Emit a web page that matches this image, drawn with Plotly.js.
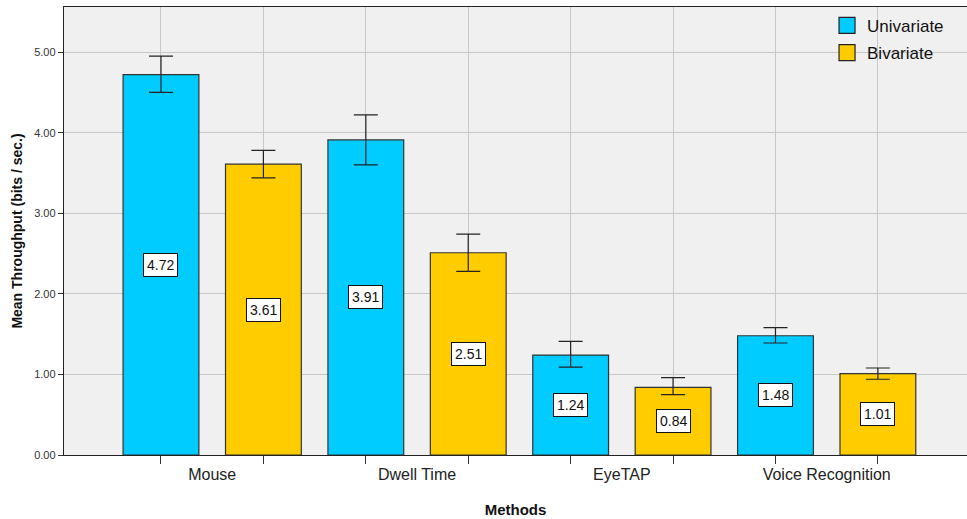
<!DOCTYPE html>
<html><head><meta charset="utf-8">
<script src="https://cdn.plot.ly/plotly-3.0.1.min.js"></script>
<style>body{margin:0;padding:0;background:#fff}#chart{width:967px;height:519px}</style>
</head><body><div id="chart"></div>
<script>
const categories = ["Mouse", "Dwell Time", "EyeTAP", "Voice Recognition"];
const seriesNames = ["Univariate", "Bivariate"];
const univariate = [4.72, 3.91, 1.24, 1.48];
const univariatePlus = [0.23, 0.31, 0.17, 0.10];
const univariateMinus = [0.22, 0.31, 0.15, 0.09];
const bivariate = [3.61, 2.51, 0.84, 1.01];
const bivariatePlus = [0.17, 0.23, 0.12, 0.07];
const bivariateMinus = [0.17, 0.23, 0.09, 0.07];
const yTicks = [0, 1, 2, 3, 4, 5];

const colors = ["#00ccff", "#ffcc00"];
const values = [univariate, bivariate];
const plus = [univariatePlus, bivariatePlus];
const minus = [univariateMinus, bivariateMinus];

const traces = values.map((vals, s) => ({
  type: "bar",
  name: seriesNames[s],
  x: vals.map((v, i) => i * 2 + s),
  y: vals,
  width: 0.74,
  showlegend: false,
  marker: {color: colors[s], line: {color: "#333333", width: 1.2}},
  error_y: {type: "data", symmetric: false, array: plus[s], arrayminus: minus[s],
            color: "#222222", thickness: 1.2, width: 12},
  xaxis: "x", yaxis: "y"
}));
// legend entries with larger square swatches
seriesNames.forEach((n, s) => traces.push({type: "scatter", name: n, x: [null], y: [null], mode: "markers",
  legendgroup: n, marker: {symbol: "square", size: 19, color: colors[s], line: {color: "#222", width: 1.2}},
  xaxis: "x", yaxis: "y"}));
// invisible trace to activate category-label axis
traces.push({type: "scatter", x: categories.map((c, i) => i * 2 + 0.5), y: categories.map(() => 0),
  mode: "markers", marker: {opacity: 0}, showlegend: false, hoverinfo: "skip", xaxis: "x2", yaxis: "y"});

const annotations = [];
values.forEach((vals, s) => vals.forEach((v, i) => {
  annotations.push({x: i * 2 + s, y: v / 2, xref: "x", yref: "y", text: v.toFixed(2),
    showarrow: false, bgcolor: "#ffffff", bordercolor: "#111111", borderwidth: 1, borderpad: 3,
    font: {family: "Liberation Sans, Arial, sans-serif", size: 14, color: "#111"}});
}));

const xr = [-0.947, 7.87];
const layout = {
  width: 967, height: 519,
  margin: {l: 64, r: 0, t: 7, b: 64},
  paper_bgcolor: "#ffffff", plot_bgcolor: "#f0f0f0",
  font: {family: "Liberation Sans, Arial, sans-serif", color: "#222"},
  barmode: "overlay",
  showlegend: true,
  legend: {x: 0.845, y: 0.998, xanchor: "left", yanchor: "top", bgcolor: "rgba(0,0,0,0)",
           font: {size: 17, color: "#111"}, traceorder: "grouped", tracegroupgap: 2, itemwidth: 30},
  xaxis: {range: xr, tickvals: [0,1,2,3,4,5,6,7], ticktext: ["","","","","","","",""],
          ticks: "outside", ticklen: 8, tickcolor: "#333", showgrid: true, gridcolor: "#c8c8c8",
          gridwidth: 1, zeroline: false, showline: true, linecolor: "#222", linewidth: 1.2, mirror: true,
          fixedrange: true},
  xaxis2: {overlaying: "x", side: "bottom", range: xr, tickvals: categories.map((c, i) => i * 2 + 0.5),
           ticktext: categories, ticks: "", showgrid: false, zeroline: false, showline: false,
           tickfont: {size: 16, color: "#222"}, ticklabelstandoff: 8,
           title: {text: "Methods", font: {size: 15, color: "#111", weight: "bold"}, standoff: 22}},
  yaxis: {range: [0, 5.56], tickvals: yTicks, ticktext: yTicks.map(v => v.toFixed(2)),
          ticks: "outside", ticklen: 5, tickcolor: "#333", tickfont: {size: 11, color: "#333"},
          showgrid: true, gridcolor: "#c8c8c8", gridwidth: 1, zeroline: false,
          showline: true, linecolor: "#222", linewidth: 1.2,
          title: {text: "Mean Throughput (bits / sec.)", font: {size: 14, color: "#111", weight: "bold"}, standoff: 8}},
  annotations: annotations
};
Plotly.newPlot("chart", traces, layout, {displayModeBar: false, staticPlot: true});
</script></body></html>
